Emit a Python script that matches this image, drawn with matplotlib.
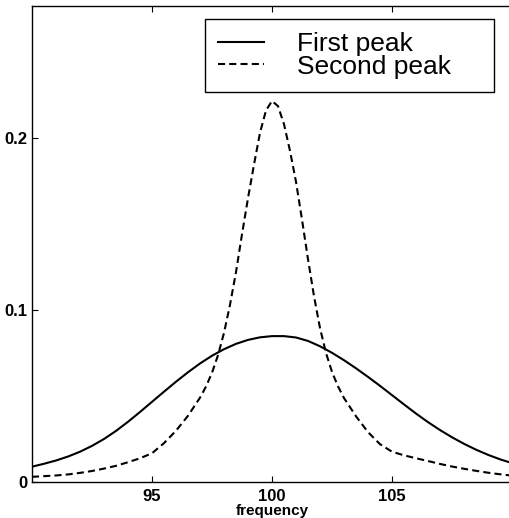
import matplotlib
matplotlib.use('Agg')
import matplotlib.pyplot as plt

plt.rcParams['font.family'] = ['Liberation Sans', 'DejaVu Sans']

# first peak (solid)
x_first = [90, 90.5, 91, 91.5, 92, 92.5, 93, 93.5, 94, 94.5,
           95, 95.5, 96, 96.5, 97, 97.5, 98, 98.5, 99, 99.5,
           100, 100.5, 101, 101.5, 102, 102.5, 103, 103.5, 104, 104.5,
           105, 105.5, 106, 106.5, 107, 107.5, 108, 108.5, 109, 109.5, 110]
y_first = [0.0089, 0.0106, 0.0125, 0.0148, 0.0176, 0.0210, 0.0250, 0.0297, 0.0350, 0.0407,
           0.0466, 0.0525, 0.0583, 0.0638, 0.0689, 0.0734, 0.0772, 0.0803, 0.0826, 0.0841,
           0.0848, 0.0848, 0.0840, 0.0820, 0.0789, 0.0751, 0.0708, 0.0661, 0.0611, 0.0559,
           0.0505, 0.0451, 0.0398, 0.0348, 0.0302, 0.0260, 0.0222, 0.0188, 0.0158, 0.0132, 0.0110]

# second peak (dashed)
x_second = [90, 90.5, 91, 91.5, 92, 92.5, 93, 93.5, 94, 94.5,
            95, 95.5, 96, 96.5, 97, 97.25, 97.5, 97.75, 98, 98.25,
            98.5, 98.75, 99, 99.25, 99.5, 99.75, 100, 100.25, 100.5, 100.75,
            101, 101.25, 101.5, 101.75, 102, 102.25, 102.5, 102.75, 103, 103.5,
            104, 104.5, 105, 105.5, 106, 106.5, 107, 107.5, 108, 108.5,
            109, 109.5, 110]
y_second = [0.0030, 0.0034, 0.0038, 0.0044, 0.0053, 0.0064, 0.0078, 0.0094, 0.0115, 0.0138,
            0.0167, 0.0226, 0.0298, 0.0385, 0.0490, 0.0555, 0.0635, 0.0737, 0.0867, 0.1030,
            0.1220, 0.1440, 0.1650, 0.1845, 0.2030, 0.2160, 0.2215, 0.2185, 0.2080, 0.1925,
            0.1745, 0.1525, 0.1295, 0.1080, 0.0895, 0.0750, 0.0640, 0.0556, 0.0488, 0.0382,
            0.0290, 0.0220, 0.0176, 0.0155, 0.0138, 0.0122, 0.0105, 0.0090, 0.0077, 0.0065,
            0.0054, 0.0045, 0.0037]

xticks = [95, 100, 105]
yticks = [0, 0.1, 0.2]
ytick_labels = ['0', '0.1', '0.2']

fig = plt.figure(figsize=(5.09, 5.18), dpi=100)
ax = fig.add_axes([32 / 509, 36 / 518, 480 / 509, 476 / 518])

ax.plot(x_first, y_first, color='black', linewidth=1.5, label='First peak')
ax.plot(x_second, y_second, color='black', linewidth=1.5, dashes=[3.4, 2.0], label='Second peak')

ax.set_xlim(90, 110)
ax.set_ylim(0, 0.2767)
ax.set_xticks(xticks)
ax.set_yticks(yticks)
ax.set_yticklabels(ytick_labels)
ax.tick_params(direction='in', top=True, right=False, length=4, width=0.8,
               labelsize=12, pad=3)
ax.tick_params(axis='x', pad=5)
for lab in ax.get_xticklabels() + ax.get_yticklabels():
    lab.set_fontweight('bold')
for sp in ax.spines.values():
    sp.set_linewidth(1.0)

ax.set_xlabel('frequency', fontsize=11, fontweight='bold', labelpad=0)

leg = ax.legend(loc='upper left', bbox_to_anchor=(0.360, 0.8187, 0.6025, 0.154),
                mode='expand', borderaxespad=0, fontsize=19, fancybox=False,
                framealpha=1, edgecolor='black', borderpad=0.5, labelspacing=-0.06,
                handlelength=1.75, handletextpad=1.25)
leg.get_frame().set_linewidth(1.0)

plt.savefig('out.png', dpi=100)
